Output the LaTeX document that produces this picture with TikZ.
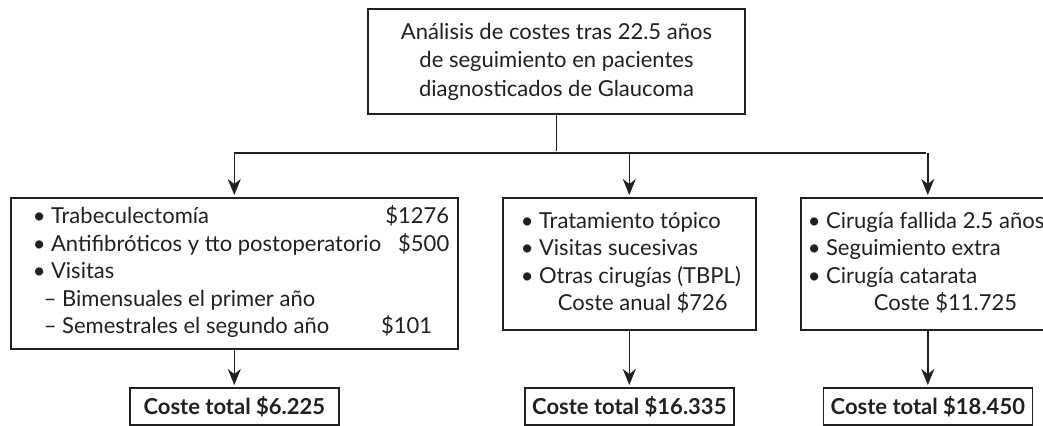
\documentclass[tikz,border=0pt]{standalone}
\usepackage{fontspec}
\setmainfont{Lato}
\usetikzlibrary{arrows.meta, positioning}
\definecolor{tinta}{HTML}{231F20}

\tikzset{
  caja/.style={draw=tinta, line width=0.8pt, text=tinta, inner ysep=0pt,
               font=\fontsize{11pt}{13.75pt}\selectfont},
  total/.style={caja, anchor=north, font=\fontsize{11pt}{12pt}\selectfont\bfseries,
                minimum width=104.5pt, minimum height=18.5pt, inner xsep=0pt}
}
\newcommand{\pto}{•\hspace{0.25em}}

\begin{document}
\begin{tikzpicture}[x=0.5pt, y=-0.5pt, ->, >={Stealth[length=8pt, width=6.5pt, inset=2.5pt]},
                    shorten >=1pt, line width=0.8pt, draw=tinta]

	\clip (0,0) rectangle (1043,425);

	\node [caja, align=center, minimum width=188.5pt, minimum height=52.5pt,
	       font=\fontsize{11pt}{14.25pt}\selectfont]		(titulo)	at (556.5,61.5)
		{Análisis de costes tras 22.5 años\\ de seguimiento en pacientes\\ diagnosticados de Glaucoma};

	\node [caja, anchor=north west, minimum height=75.5pt, inner xsep=11pt]	(caja1)	at (10,197)
		{\makebox[201.5pt][l]{\begin{tabular*}{205.5pt}{@{}l@{\extracolsep{\fill}}r@{}}
			\pto Trabeculectomía & \$1276\\
			\pto Antifibróticos y tto postoperatorio & \$500\\
			\pto Visitas & \\
			\hspace*{5.5pt}–~Bimensuales el primer año & \\
			\hspace*{5.5pt}–~Semestrales el segundo año & \$101\hspace*{8.5pt}
		\end{tabular*}}};

	\node [caja, anchor=north west, minimum height=66pt, inner xsep=9pt]	(caja2)	at (502,197)
		{\makebox[108.5pt][l]{\begin{tabular}{@{}l@{}}
			\pto Tratamiento tópico\\ \pto Visitas sucesivas\\ \pto Otras cirugías (TBPL)\\
			\hspace*{18.5pt}Coste anual \$726
		\end{tabular}}};

	\node [caja, anchor=north west, minimum height=66pt, inner xsep=3.5pt]	(caja3)	at (800,197)
		{\makebox[120pt][l]{\begin{tabular}{@{}l@{}}
			\pto Cirugía fallida 2.5 años\\ \pto Seguimiento extra\\ \pto Cirugía catarata\\
			\hspace*{33pt}Coste \$11.725
		\end{tabular}}};

	% totales
	\coordinate (fila) at (0,387);
	\node [total]	(total1)	at (caja1.south |- fila)	{Coste total \$6.225};
	\node [total]	(total2)	at (caja2.south |- fila)	{Coste total \$16.335};
	\node [total]	(total3)	at (caja3.south |- fila)	{Coste total \$18.450};

	% ramas
	\coordinate (rama) at (0,153);
	\draw [-] (titulo) -- (titulo |- rama);
	\draw [-] (caja1.north |- rama) -- (caja3.north |- rama);

	\path	(caja1.north |- rama)	edge	(caja1)
			(caja2.north |- rama)	edge	(caja2)
			(caja3.north |- rama)	edge	(caja3)
			(caja1)	edge	(total1)
			(caja2)	edge	(total2)
			(caja3)	edge	(total3);

\end{tikzpicture}
\end{document}
